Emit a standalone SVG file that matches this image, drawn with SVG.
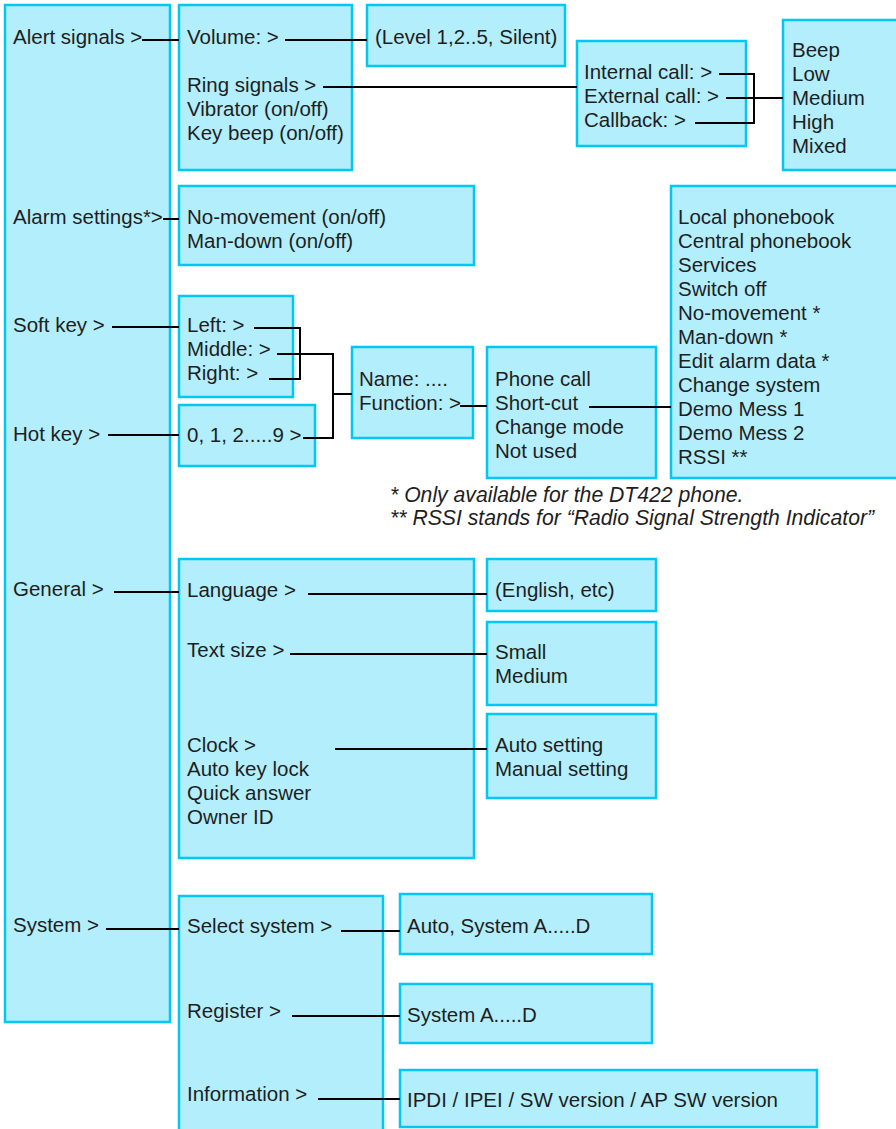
<svg xmlns="http://www.w3.org/2000/svg" width="896" height="1129" viewBox="0 0 896 1129">
<style>
.box{fill:#b3eefc;stroke:#00c8f5;stroke-width:2.5}
text{font-family:"Liberation Sans",Arial,sans-serif;font-size:20.5px;fill:#1e1e1e}
.note{font-style:italic;font-size:21.2px}
.c{fill:none;stroke:#000;stroke-width:2}
</style>
<rect width="896" height="1129" fill="#fff"/>
<g id="root"><rect class="box" x="5" y="5" width="165" height="1017"/>
<text x="13" y="44">Alert signals &gt;</text>
<text x="13" y="224">Alarm settings*&gt;</text>
<text x="13" y="332">Soft key &gt;</text>
<text x="13" y="441">Hot key &gt;</text>
<text x="13" y="596">General &gt;</text>
<text x="13" y="932">System &gt;</text></g>
<g id="alert"><rect class="box" x="179" y="5" width="173" height="165"/>
<text x="187" y="44">Volume: &gt;</text>
<text x="187" y="92">Ring signals &gt;</text>
<text x="187" y="116">Vibrator (on/off)</text>
<text x="187" y="140">Key beep (on/off)</text></g>
<g id="level"><rect class="box" x="367" y="5" width="198" height="61"/>
<text x="375" y="44">(Level 1,2..5, Silent)</text></g>
<g id="ring"><rect class="box" x="577" y="41" width="169" height="105"/>
<text x="584" y="79">Internal call: &gt;</text>
<text x="584" y="103">External call: &gt;</text>
<text x="584" y="127">Callback: &gt;</text></g>
<g id="tones"><rect class="box" x="783" y="20" width="120" height="150"/>
<text x="792" y="57">Beep</text>
<text x="792" y="81">Low</text>
<text x="792" y="105">Medium</text>
<text x="792" y="129">High</text>
<text x="792" y="153">Mixed</text></g>
<g id="alarm"><rect class="box" x="179" y="186" width="295" height="79"/>
<text x="187" y="224">No-movement (on/off)</text>
<text x="187" y="248">Man-down (on/off)</text></g>
<g id="functions"><rect class="box" x="671" y="186" width="232" height="292"/>
<text x="678" y="224">Local phonebook</text>
<text x="678" y="248">Central phonebook</text>
<text x="678" y="272">Services</text>
<text x="678" y="296">Switch off</text>
<text x="678" y="320">No-movement *</text>
<text x="678" y="344">Man-down *</text>
<text x="678" y="368">Edit alarm data *</text>
<text x="678" y="392">Change system</text>
<text x="678" y="416">Demo Mess 1</text>
<text x="678" y="440">Demo Mess 2</text>
<text x="678" y="464">RSSI **</text></g>
<g id="softkey"><rect class="box" x="179" y="296" width="114" height="101"/>
<text x="187" y="332">Left: &gt;</text>
<text x="187" y="356">Middle: &gt;</text>
<text x="187" y="380">Right: &gt;</text></g>
<g id="hotkey"><rect class="box" x="179" y="405" width="136" height="61"/>
<text x="187" y="442">0, 1, 2.....9 &gt;</text></g>
<g id="name"><rect class="box" x="352" y="347" width="121" height="91"/>
<text x="359" y="386">Name: ....</text>
<text x="359" y="410">Function: &gt;</text></g>
<g id="function"><rect class="box" x="487" y="347" width="169" height="131"/>
<text x="495" y="386">Phone call</text>
<text x="495" y="410">Short-cut</text>
<text x="495" y="434">Change mode</text>
<text x="495" y="458">Not used</text></g>
<g id="notes">
<text class="note" x="390" y="502">* Only available for the DT422 phone.</text>
<text class="note" x="390" y="525">** RSSI stands for “Radio Signal Strength Indicator”</text></g>
<g id="general"><rect class="box" x="179" y="559" width="295" height="299"/>
<text x="187" y="597">Language &gt;</text>
<text x="187" y="657">Text size &gt;</text>
<text x="187" y="752">Clock &gt;</text>
<text x="187" y="776">Auto key lock</text>
<text x="187" y="800">Quick answer</text>
<text x="187" y="824">Owner ID</text></g>
<g id="language"><rect class="box" x="487" y="559" width="169" height="52"/>
<text x="495" y="597">(English, etc)</text></g>
<g id="textsize"><rect class="box" x="487" y="622" width="169" height="83"/>
<text x="495" y="659">Small</text>
<text x="495" y="683">Medium</text></g>
<g id="clock"><rect class="box" x="487" y="714" width="169" height="84"/>
<text x="495" y="752">Auto setting</text>
<text x="495" y="776">Manual setting</text></g>
<g id="system"><rect class="box" x="179" y="896" width="204" height="250"/>
<text x="187" y="933">Select system &gt;</text>
<text x="187" y="1018">Register &gt;</text>
<text x="187" y="1101">Information &gt;</text></g>
<g id="select"><rect class="box" x="400" y="894" width="252" height="60"/>
<text x="407" y="933">Auto, System A.....D</text></g>
<g id="register"><rect class="box" x="400" y="984" width="252" height="59"/>
<text x="407" y="1022">System A.....D</text></g>
<g id="info"><rect class="box" x="400" y="1070" width="417" height="57"/>
<text x="407" y="1107">IPDI / IPEI / SW version / AP SW version</text></g>
<g id="connectors">
<path class="c" d="M142 40H179M285 40H367M323 87H577"/>
<path class="c" d="M719 74H754V123H695M726 98H783"/>
<path class="c" d="M163 219H179"/>
<path class="c" d="M112 327H179M254 328H300V379H269M277 354H333V438H303M333 394H352M108 435H179"/>
<path class="c" d="M460 406H487M589 407H671"/>
<path class="c" d="M114 592H179M308 594H487M290 654H487M335 749H487"/>
<path class="c" d="M106 929H179M341 931H400M292 1016H400M318 1099H400"/>
</g>
</svg>
